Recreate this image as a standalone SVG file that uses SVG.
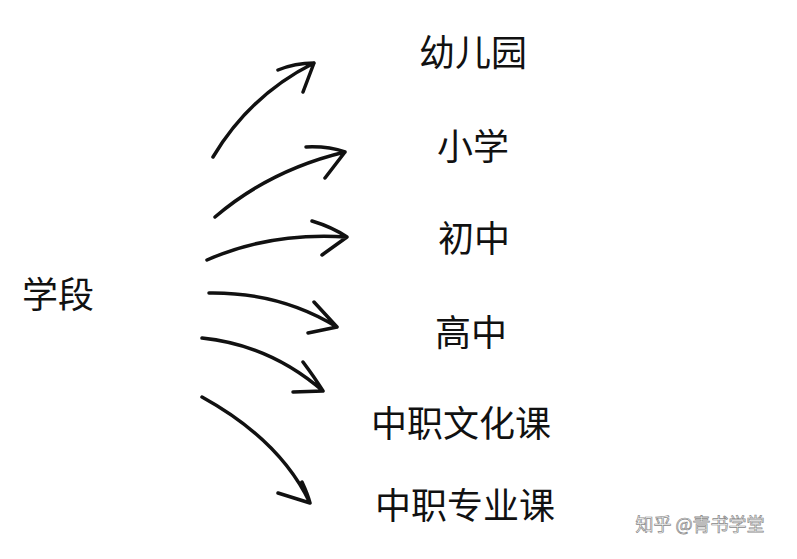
<svg xmlns="http://www.w3.org/2000/svg" width="797" height="559" viewBox="0 0 797 559">
<style>
text{font-family:"Noto Sans CJK SC",sans-serif;fill:#111;text-anchor:middle;dominant-baseline:central}
.t{font-size:36px}
.a path{fill:none;stroke:#111;stroke-width:3.5;stroke-linecap:round;stroke-linejoin:round}
.w{font-size:18px;fill:#fff;stroke:#999;stroke-width:0.6}
</style>
<rect width="797" height="559" fill="#fff"/>
<g id="root"><text class="t" x="58" y="292">学段</text></g>
<g id="n1"><text class="t" x="473" y="50">幼儿园</text></g>
<g id="n2"><text class="t" x="473" y="144">小学</text></g>
<g id="n3"><text class="t" x="474" y="236">初中</text></g>
<g id="n4"><text class="t" x="471" y="330">高中</text></g>
<g id="n5"><text class="t" x="461" y="421">中职文化课</text></g>
<g id="n6"><text class="t" x="465" y="503">中职专业课</text></g>
<g id="connectors" class="a">
<path d="M213 157 Q250 95 314 63 M278 70 Q295 63 314 63 L303 92"/>
<path d="M215 217 Q270 170 345 152 M306 147 Q328 146 345 152 L325 178"/>
<path d="M207 260 Q270 232 347 237 M312 221 Q332 227 347 237 L322 255"/>
<path d="M209 293 Q280 292 337 327 M314 302 Q326 315 337 327 L308 333"/>
<path d="M202 338 Q270 345 323 391 M303 362 Q315 378 323 391 L293 392"/>
<path d="M202 397 Q280 440 310 503 M302 482 Q308 495 310 503 L278 493"/>
</g>
<text x="700" y="523" style="font-size:18px;fill:#fff;stroke:#888;stroke-width:0.7">知乎 @青书学堂</text>
</svg>
